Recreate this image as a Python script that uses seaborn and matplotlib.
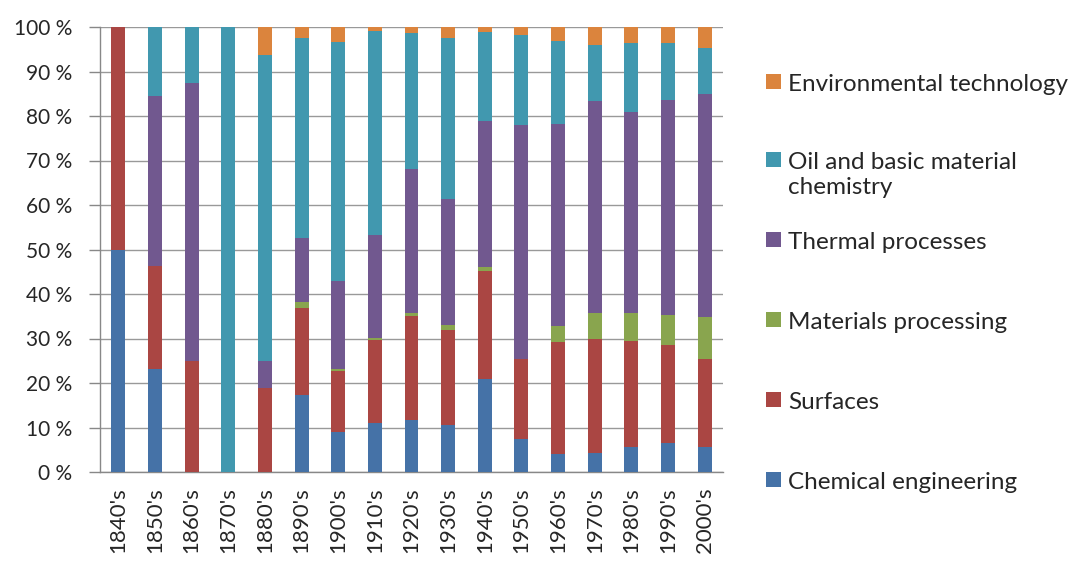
import numpy as np
import pandas as pd
import matplotlib
matplotlib.use("Agg")
import matplotlib.pyplot as plt
import seaborn as sns
from matplotlib.patches import Rectangle

# Data (shares in %)

decades = ["1840's", "1850's", "1860's", "1870's", "1880's", "1890's", "1900's",
           "1910's", "1920's", "1930's", "1940's", "1950's", "1960's", "1970's",
           "1980's", "1990's", "2000's"]

chemical_engineering = [50.0, 23.1, 0.0, 0.0, 0.0, 17.2, 8.9, 11.1, 11.7, 10.5,
                        20.8, 7.4, 4.0, 4.3, 5.7, 6.5, 5.7]
surfaces = [50.0, 23.2, 24.9, 0.0, 18.9, 19.7, 13.7, 18.6, 23.4, 21.5,
            24.3, 18.0, 25.2, 25.6, 23.8, 22.1, 19.7]
materials_processing = [0.0, 0.0, 0.0, 0.0, 0.0, 1.3, 0.6, 0.4, 0.6, 1.1,
                        0.9, 0.0, 3.6, 5.8, 6.2, 6.6, 9.5]
thermal_processes = [0.0, 38.3, 62.5, 0.0, 6.0, 14.4, 19.7, 23.1, 32.5, 28.3,
                     32.9, 52.6, 45.5, 47.7, 45.1, 48.5, 50.0]
oil_basic_chemistry = [0.0, 15.4, 12.6, 100.0, 68.8, 44.9, 53.7, 45.9, 30.4, 36.1,
                       20.0, 20.3, 18.6, 12.6, 15.5, 12.8, 10.4]
environmental_tech = [0.0, 0.0, 0.0, 0.0, 6.3, 2.5, 3.4, 0.9, 1.4, 2.5,
                      1.1, 1.7, 3.1, 4.0, 3.7, 3.5, 4.7]

fields = ["Chemical engineering", "Surfaces", "Materials processing",
          "Thermal processes", "Oil and basic material\nchemistry",
          "Environmental technology"]
colors = ["#4572A7", "#AA4643", "#89A54E", "#71588F", "#4198AF", "#DB843D"]

df = pd.DataFrame({
    "decade": decades,
    fields[0]: chemical_engineering,
    fields[1]: surfaces,
    fields[2]: materials_processing,
    fields[3]: thermal_processes,
    fields[4]: oil_basic_chemistry,
    fields[5]: environmental_tech,
})

# normalise each decade to 100 %
vals = df[fields]
vals = vals.div(vals.sum(axis=1), axis=0) * 100
cum = vals.cumsum(axis=1)
cum["decade"] = df["decade"]

# Plot

sns.set_style("white")
plt.rcParams["font.family"] = ["Lato", "DejaVu Sans"]
text_color = "#262626"
W, H = 1072, 567

fig = plt.figure(figsize=(W / 100, H / 100), dpi=100)
ax = fig.add_axes([100 / W, 1 - 472 / H, 623 / W, 445 / H])

# overlay cumulative bars, tallest first
for field, color in reversed(list(zip(fields, colors))):
    sns.barplot(data=cum, x="decade", y=field, color=color, width=0.38,
                saturation=1, ax=ax, zorder=3, linewidth=0)

ax.set_xlim(-0.5, len(decades) - 0.5)
ax.set_ylim(0, 100)
ax.set_yticks(np.arange(0, 101, 10))
ax.set_yticklabels([f"{v} %" for v in range(0, 101, 10)], fontsize=15, color=text_color)
ax.set_xticks(range(len(decades)))
ax.set_xticklabels(decades, rotation=90, fontsize=16, color=text_color)
ax.set_xticks(np.arange(-0.5, len(decades)), minor=True)
ax.tick_params(axis="x", which="major", length=0, pad=11)
ax.tick_params(axis="x", which="minor", length=7, color="#888888", width=1)
ax.tick_params(axis="y", length=8, color="#888888", width=1, left=True, pad=12)
ax.set_xlabel("")
ax.set_ylabel("")

ax.grid(axis="y", color="#999999", linewidth=1, zorder=0)
ax.set_axisbelow(True)
for side in ["top", "right"]:
    ax.spines[side].set_visible(False)
for side in ["left", "bottom"]:
    ax.spines[side].set_color("#888888")
    ax.spines[side].set_linewidth(1)

# legend, top entry first, first line of each label level with its square
legend_y = [480, 400, 320, 240, 160, 82]
for field, color, y in zip(fields, colors, legend_y):
    fig.patches.append(Rectangle((766 / W, 1 - (y + 7) / H), 15 / W, 15 / H,
                                 transform=fig.transFigure, facecolor=color,
                                 edgecolor="none"))
    fig.text(788 / W, 1 - (y - 8) / H, field, fontsize=17.5, color=text_color,
             va="top", ha="left", linespacing=1.25)

fig.savefig("out.png", dpi=100)
